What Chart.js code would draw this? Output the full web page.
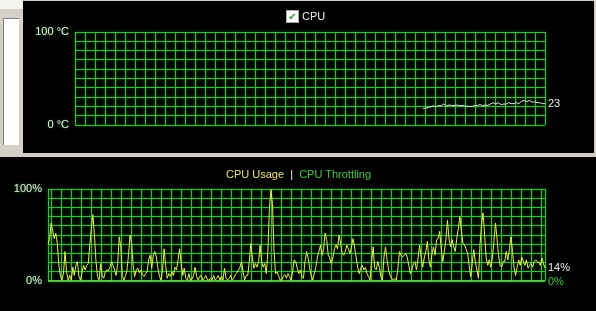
<!DOCTYPE html>
<html>
<head>
<meta charset="utf-8">
<script src="https://cdn.jsdelivr.net/npm/chart.js@4"></script>
<style>
body { margin:0; width:596px; height:311px; background:#000; position:relative; overflow:hidden; font-family:"Liberation Sans", Arial, sans-serif; font-size:11px; }
.abs { position:absolute; }
#frame { left:0; top:0; width:23px; height:157px; background:#d4d0c8; }
#frameTop { left:0; top:0; width:23px; height:9px; background:#f4f3ee; }
#list { left:3px; top:18px; width:15px; height:126px; background:#fff; border-left:1px solid #808080; border-top:1px solid #808080; }
#band { left:0; top:153px; width:596px; height:4px; background:#d4d0c8; }
#rightEdge { left:594px; top:0; width:2px; height:153px; background:#d4d0c8; }
#topEdge { left:23px; top:0; width:573px; height:1px; background:#d4d0c8; }
#tempCanvas { left:23px; top:1px; }
#usageCanvas { left:0; top:157px; }
#cpuTitle { left:286px; top:10px; color:#f0f0f0; line-height:13px; }
.box { display:inline-block; width:11px; height:11px; border:1px solid #a0a8b0; background:#fff; color:#2a9a2a; font-family:"DejaVu Sans", sans-serif; font-size:10px; line-height:11px; text-align:center; vertical-align:top; font-weight:bold; margin-right:3px; }
#legend { left:226px; top:168px; line-height:13px; }
</style>
</head>
<body>
<div id="frame" class="abs"></div>
<div id="frameTop" class="abs"></div>
<div id="list" class="abs"></div>
<div id="band" class="abs"></div>
<div id="rightEdge" class="abs"></div>
<div id="topEdge" class="abs"></div>
<canvas id="tempCanvas" class="abs" width="571" height="152"></canvas>
<canvas id="usageCanvas" class="abs" width="596" height="154"></canvas>
<div id="cpuTitle" class="abs"><span class="box">✔</span>CPU</div>
<div id="legend" class="abs"><span style="color:#e6e27a">CPU Usage</span><span style="color:#f0f0f0">&nbsp;&nbsp;|&nbsp;&nbsp;</span><span style="color:#46c846">CPU Throttling</span></div>
<script>
// CPU usage history, percent, oldest first
const usage = [
    40, 45, 63, 55, 46, 52, 41, 17, 6, 1, 8, 32, 10, 1, 6, 1, 15, 6, 17, 21, 5, 1, 10, 17, 12, 17, 19, 39, 57, 72,
    50, 21, 5, 1, 19, 6, 3, 10, 12, 11, 15, 21, 17, 12, 6, 19, 48, 37, 6, 1, 5, 12, 28, 50, 41, 17, 5, 12, 14, 9,
    12, 7, 5, 8, 10, 23, 28,
    14, 28, 32, 26, 14, 5, 1, 12, 35, 17, 3, 8, 5, 10, 6, 15, 12, 23, 35, 19, 6, 14, 3, 1, 8, 1, 2, 6, 15, 5,
    1, 5, 6, 1, 3, 6, 1, 1, 3, 1, 6, 1, 3, 6, 1, 5, 1, 14, 3, 1, 3, 6, 1, 3, 7, 9, 12, 15, 21, 10, 1, 6,
    6, 21, 41, 25, 14, 19, 15, 21, 39, 21, 15, 19, 8, 32, 79, 99, 83, 32, 8, 10, 5, 1, 1, 5, 7, 3, 8, 5, 1, 10,
    23, 21, 14, 8, 12, 5, 3, 21, 32, 25, 14, 6, 1, 8, 15, 26, 32, 39, 28, 35, 52, 45, 28, 25, 19, 25, 35, 39, 35, 50,
    41, 30, 28, 32, 39,
    35, 30, 37, 46, 37, 26, 15, 8, 14, 17, 12, 15, 8, 5, 1, 21, 37, 14, 12, 21, 15, 5, 1, 26, 37, 23, 12, 6, 3, 1,
    3, 1, 14, 32, 28, 26, 28, 30, 26, 17, 8, 12, 19, 21, 12, 25, 39, 26, 15, 25, 32, 43, 23, 15, 30, 37, 28, 45, 46, 54,
    35, 21,
    32, 45, 66, 46, 37, 45, 37, 32, 46, 57, 70, 54, 41, 39, 35, 30, 17, 5, 19, 34, 21, 12, 3, 39, 61, 74, 50, 25, 17, 23,
    15, 25, 43, 63, 46, 28, 17, 15, 21, 21, 32, 23, 34, 48, 32, 15, 6, 15, 23, 17, 26, 21, 17, 23, 14, 17, 19, 15, 21, 23,
    21, 20, 17, 25, 19, 14
];

// throttling stays at 0% the whole time
const throttling = new Array(usage.length).fill(0);

// CPU temperature, °C, only the most recent part of the history is recorded
const temperature = [
    18, 18, 19, 19.5, 20.5, 19.5, 21, 20.5, 22.6, 20.5, 21.5, 21, 21, 21.5, 21, 21, 20.5, 20, 20, 20,
    21, 21, 22, 20.5, 21.5, 21, 22.5, 24, 22.5, 24, 22, 22.5, 22.5, 24, 23, 23, 24, 23, 25.5, 26.5,
    25, 26.5, 24.5, 25, 24, 24, 23, 23
];
const temperatureSlots = 182;

const tempTickLabels = { 0: "0 °C", 100: "100 °C" };
const usageTickLabels = { 0: "0%", 100: "100%" };

const temperatureSeries = new Array(temperatureSlots - temperature.length).fill(null).concat(temperature);
const temperatureLabels = temperatureSeries.map((v, i) => i);
const usageLabels = usage.map((v, i) => i);

const gridColor = "#3fb83f";
const textColor = "#ececec";
const font = { family: "'Liberation Sans', Arial, sans-serif", size: 11 };

// soft green halo around the grid lines, like the original monitor
const gridGlow = {
    id: "gridGlow",
    beforeDraw(chart) {
        const ctx = chart.ctx;
        ctx.shadowColor = "rgba(30, 150, 30, 0.9)";
        ctx.shadowBlur = 3;
    },
    beforeDatasetsDraw(chart) {
        const ctx = chart.ctx;
        ctx.shadowColor = "transparent";
        ctx.shadowBlur = 0;
    },
};

function valueLabels(items) {
    return {
        id: "valueLabels",
        afterDatasetsDraw(chart) {
            const { ctx, chartArea, scales } = chart;
            ctx.save();
            ctx.font = "11px 'Liberation Sans', Arial, sans-serif";
            ctx.textBaseline = "middle";
            ctx.textAlign = "left";
            items.forEach((item) => {
                const data = chart.data.datasets[item.dataset].data;
                const v = data[data.length - 1];
                ctx.fillStyle = item.color;
                ctx.fillText(item.text(v), chartArea.right + 3, scales.y.getPixelForValue(v) + item.dy);
            });
            ctx.restore();
        },
    };
}

function yAxis(labels, width) {
    return {
        min: 0,
        max: 100,
        border: { display: false },
        grid: { color: gridColor, lineWidth: 1, drawTicks: false },
        ticks: {
            stepSize: 10,
            autoSkip: false,
            padding: 6,
            color: textColor,
            font: font,
            callback: (v) => labels[v] || "",
        },
        afterFit: (s) => { s.width = width; },
    };
}

const tempCtx = document.getElementById("tempCanvas");

let tempChart = new Chart(tempCtx, {
    type: "line",
    data: {
        labels: temperatureLabels,
        datasets: [
            {
                label: "CPU",
                data: temperatureSeries,
                borderColor: "#e6e6e6",
                borderWidth: 1,
                pointRadius: 0,
                tension: 0,
            },
        ],
    },
    options: {
        responsive: false,
        animation: false,
        layout: { padding: { left: 0, right: 49, top: 31, bottom: 28 } },
        plugins: { legend: { display: false }, tooltip: { enabled: false } },
        scales: {
            x: { display: false },
            g: {
                type: "linear",
                position: "bottom",
                min: 0,
                max: 470,
                border: { display: false },
                grid: { color: gridColor, lineWidth: 1, drawTicks: false },
                ticks: { display: false, stepSize: 10, autoSkip: false },
                afterFit: (s) => { s.height = 0; },
            },
            y: yAxis(tempTickLabels, 52),
        },
    },
    plugins: [gridGlow, valueLabels([{ dataset: 0, color: "#ececec", dy: 0, text: (v) => String(Math.round(v)) }])],
});

const usageCtx = document.getElementById("usageCanvas");
const usageGridOffset = 3.7;

let usageChart = new Chart(usageCtx, {
    type: "line",
    data: {
        labels: usageLabels,
        datasets: [
            {
                label: "CPU Usage",
                data: usage,
                borderColor: "#e2ee4e",
                borderWidth: 1,
                pointRadius: 0,
                tension: 0,
            },
            {
                label: "CPU Throttling",
                data: throttling,
                borderColor: "#8eea5a",
                borderWidth: 1.5,
                pointRadius: 0,
                tension: 0,
            },
        ],
    },
    options: {
        responsive: false,
        animation: false,
        layout: { padding: { left: 0, right: 51, top: 32, bottom: 30 } },
        plugins: { legend: { display: false }, tooltip: { enabled: false } },
        scales: {
            x: { display: false },
            g: {
                type: "linear",
                position: "bottom",
                min: 0,
                max: 497,
                border: { display: false },
                grid: { color: gridColor, lineWidth: 1, drawTicks: false },
                ticks: { display: false, autoSkip: false },
                afterBuildTicks: (s) => {
                    const t = [0];
                    for (let v = usageGridOffset; v < 497; v += 10) t.push(v);
                    t.push(497);
                    s.ticks = t.map((value) => ({ value }));
                },
                afterFit: (s) => { s.height = 0; },
            },
            y: yAxis(usageTickLabels, 48),
        },
    },
    plugins: [gridGlow, valueLabels([
        { dataset: 0, color: "#ececec", dy: 0, text: (v) => v + "%" },
        { dataset: 1, color: "#46c846", dy: 1, text: (v) => v + "%" },
    ])],
});
</script>
</body>
</html>
